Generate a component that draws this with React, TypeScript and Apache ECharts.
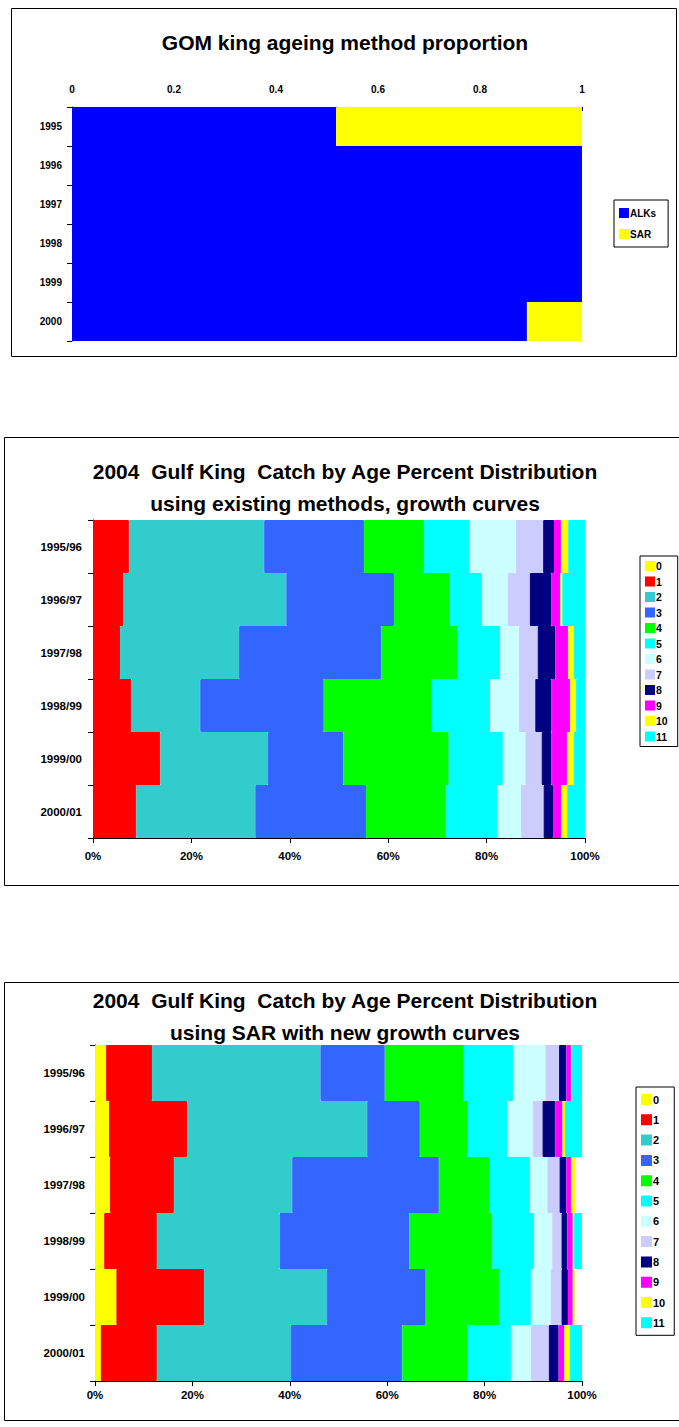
import React, { useEffect, useRef } from "react";
import * as echarts from "echarts";

// ---------- Chart 1: ageing method proportion ----------
const methodYears = ["1995", "1996", "1997", "1998", "1999", "2000"];
const alksShare = [0.518, 1, 1, 1, 1, 0.892];
const sarShare = [0.482, 0, 0, 0, 0, 0.108];
const methodTicks = [0, 0.2, 0.4, 0.6, 0.8, 1];

// ---------- Charts 2 & 3: catch by age (percent) ----------
const seasons = ["1995/96", "1996/97", "1997/98", "1998/99", "1999/00", "2000/01"];
const ageNames = ["0", "1", "2", "3", "4", "5", "6", "7", "8", "9", "10", "11"];
const ageColors = [
  "#FFFF00", "#FF0000", "#33CCCC", "#3366FF", "#00FF00", "#00FFFF",
  "#CCFFFF", "#CCCCFF", "#000080", "#FF00FF", "#FFFF00", "#00FFFF",
];

// existing methods, growth curves (percent by age 0..11)
const existing9596 = [0, 7.3, 27.5, 20.3, 12.2, 9.3, 9.4, 5.5, 2.2, 1.4, 1.5, 3.4];
const existing9697 = [0, 6.2, 33.1, 21.9, 11.4, 6.5, 5.2, 4.5, 4.4, 1.8, 0.4, 4.6];
const existing9798 = [0, 5.5, 24.2, 28.9, 15.4, 8.8, 3.8, 3.8, 3.6, 2.6, 1.1, 2.3];
const existing9899 = [0, 7.8, 14.0, 25.1, 21.8, 12.0, 5.9, 3.3, 3.3, 3.8, 1.2, 1.8];
const existing9900 = [0, 13.7, 21.8, 15.4, 21.4, 11.0, 4.6, 3.3, 2.0, 3.2, 1.3, 2.3];
const existing0001 = [0, 8.8, 24.2, 22.5, 16.3, 10.4, 4.8, 4.6, 1.9, 1.7, 1.2, 3.6];

// SAR with new growth curves (percent by age 0..11)
const sar9596 = [2.3, 9.4, 34.6, 13.2, 16.2, 10.2, 6.6, 2.8, 1.5, 1.0, 0.1, 2.1];
const sar9697 = [2.9, 16.0, 37.0, 10.8, 9.8, 8.2, 5.2, 2.0, 2.6, 1.5, 0.5, 3.5];
const sar9798 = [3.1, 13.1, 24.3, 30.1, 10.3, 8.4, 3.6, 2.5, 1.4, 1.0, 0.8, 0];
const sar9899 = [1.9, 10.8, 25.2, 26.7, 17.0, 8.6, 3.7, 1.9, 1.2, 1.1, 0.3, 1.6];
const sar9900 = [4.4, 18.0, 25.2, 20.3, 15.1, 6.5, 4.1, 2.2, 1.3, 1.0, 0.4, 0];
const sar0001 = [1.2, 11.5, 27.5, 22.9, 13.4, 8.9, 4.1, 3.7, 2.0, 1.2, 1.1, 2.5];

const percentTicks = [0, 20, 40, 60, 80, 100];

const existingRows = [existing9596, existing9697, existing9798, existing9899, existing9900, existing0001];
const sarRows = [sar9596, sar9697, sar9798, sar9899, sar9900, sar0001];

const FONT = "'Liberation Sans', Arial, sans-serif";

function ageSeries(rows: number[][], axisIndex: number, stack: string) {
  return ageNames.map((name, a) => ({
    type: "bar",
    name,
    stack,
    xAxisIndex: axisIndex,
    yAxisIndex: axisIndex,
    barCategoryGap: "0%",
    itemStyle: { color: ageColors[a], borderColor: ageColors[a], borderWidth: 1 },
    data: rows.map((r) => (r[a] > 0 ? r[a] : null)),
  }));
}

function catAxis(gridIndex: number, data: string[], size: number, margin: number) {
  return {
    type: "category",
    gridIndex,
    data,
    inverse: true,
    splitLine: { show: false },
    splitArea: { show: false },
    axisLine: { show: true, lineStyle: { color: "#000", width: 1 } },
    axisTick: { show: true, length: 5, lineStyle: { color: "#000" } },
    axisLabel: { fontFamily: FONT, fontWeight: "bold", fontSize: size, color: "#000", margin },
  };
}

function pctAxis(gridIndex: number, margin: number) {
  return {
    type: "value",
    gridIndex,
    min: percentTicks[0],
    max: percentTicks[percentTicks.length - 1],
    interval: percentTicks[1] - percentTicks[0],
    position: "bottom",
    splitLine: { show: false },
    axisLine: { show: true, lineStyle: { color: "#000", width: 1 } },
    axisTick: { show: true, length: 5, lineStyle: { color: "#000" } },
    axisLabel: {
      fontFamily: FONT, fontWeight: "bold", fontSize: 11.5, color: "#000", margin,
      formatter: (v: number) => `${v}%`,
    },
  };
}

export default function App() {
  const ref = useRef<HTMLDivElement>(null);
  useEffect(() => {
    if (!ref.current) return;
    const chart = echarts.init(ref.current, null, { renderer: "svg" });
    const titleStyle = { fontFamily: FONT, fontWeight: "bold", fontSize: 21, color: "#000" };
    const option: any = {
      animation: false,
      backgroundColor: "#fff",
      title: [
        { text: "GOM king ageing method proportion", left: 340, textAlign: "center", top: 25,
          textStyle: { ...titleStyle, lineHeight: 24 } },
        { text: "2004  Gulf King  Catch by Age Percent Distribution\nusing existing methods, growth curves",
          left: 340, textAlign: "center", top: 450, textStyle: { ...titleStyle, lineHeight: 32 } },
        { text: "2004  Gulf King  Catch by Age Percent Distribution\nusing SAR with new growth curves",
          left: 340, textAlign: "center", top: 979, textStyle: { ...titleStyle, lineHeight: 32 } },
      ],
      legend: [
        { data: ["ALKs", "SAR"], orient: "vertical", left: 614, top: 200, padding: [7, 12, 7, 5],
          itemGap: 9, itemWidth: 8, itemHeight: 8, icon: "rect", borderColor: "#000", borderWidth: 1,
          textStyle: { fontFamily: FONT, fontWeight: "bold", fontSize: 10, color: "#000", lineHeight: 12, padding: [0, 0, 0, -3] } },
        { data: ageNames, orient: "vertical", left: 640, top: 556, padding: [4, 10, 4, 5],
          itemGap: 3.5, itemWidth: 8, itemHeight: 8, icon: "rect", borderColor: "#000", borderWidth: 1,
          textStyle: { fontFamily: FONT, fontWeight: "bold", fontSize: 10.5, color: "#000", lineHeight: 12, padding: [0, 0, 0, -3] } },
        { data: ageNames, orient: "vertical", left: 636, top: 1087, padding: [6, 9, 6, 5],
          itemGap: 7.3, itemWidth: 9, itemHeight: 9, icon: "rect", borderColor: "#000", borderWidth: 1,
          textStyle: { fontFamily: FONT, fontWeight: "bold", fontSize: 11, color: "#000", lineHeight: 13, padding: [0, 0, 0, -3] } },
      ],
      grid: [
        { left: 72, top: 107, width: 510, height: 234 },
        { left: 93, top: 520, width: 492, height: 318 },
        { left: 95, top: 1045, width: 487, height: 336 },
      ],
      xAxis: [
        {
          type: "value", gridIndex: 0, position: "top",
          min: methodTicks[0], max: methodTicks[methodTicks.length - 1], interval: methodTicks[1] - methodTicks[0],
          splitLine: { show: false },
          axisLine: { show: true, lineStyle: { color: "#000", width: 1 } },
          axisTick: { show: true, inside: true, length: 4, lineStyle: { color: "#000" } },
          minorTick: { show: true, splitNumber: 2, length: 4, lineStyle: { color: "#000" } },
          axisLabel: { fontFamily: FONT, fontWeight: "bold", fontSize: 10, color: "#000", margin: 13 },
        },
        pctAxis(1, 12),
        pctAxis(2, 8),
      ],
      yAxis: [
        catAxis(0, methodYears, 10, 10),
        catAxis(1, seasons, 11.5, 11),
        catAxis(2, seasons, 11.5, 10),
      ],
      graphic: [
        { type: "rect", shape: { x: 11.5, y: 8.5, width: 665, height: 348 }, style: { fill: "none", stroke: "#000", lineWidth: 1 }, z: -1 },
        { type: "rect", shape: { x: 4.5, y: 437.5, width: 690, height: 448 }, style: { fill: "none", stroke: "#000", lineWidth: 1 }, z: -1 },
        { type: "rect", shape: { x: 4.5, y: 982.5, width: 690, height: 438 }, style: { fill: "none", stroke: "#000", lineWidth: 1 }, z: -1 },
      ],
      series: [
        { type: "bar", name: "ALKs", stack: "m", xAxisIndex: 0, yAxisIndex: 0, barCategoryGap: "0%",
          itemStyle: { color: "#0000FF", borderColor: "#0000FF", borderWidth: 1.5 }, data: alksShare },
        { type: "bar", name: "SAR", stack: "m", xAxisIndex: 0, yAxisIndex: 0, barCategoryGap: "0%",
          itemStyle: { color: "#FFFF00", borderColor: "#FFFF00", borderWidth: 1 },
          data: sarShare.map((v) => (v > 0 ? v : null)) },
        ...ageSeries(existingRows, 1, "e"),
        ...ageSeries(sarRows, 2, "s"),
      ],
    };
    chart.setOption(option);
    return () => chart.dispose();
  }, []);
  return (
    <div
      ref={ref}
      style={{ position: "absolute", left: 0, top: 0, width: 679, height: 1427, background: "#fff" }}
    />
  );
}
